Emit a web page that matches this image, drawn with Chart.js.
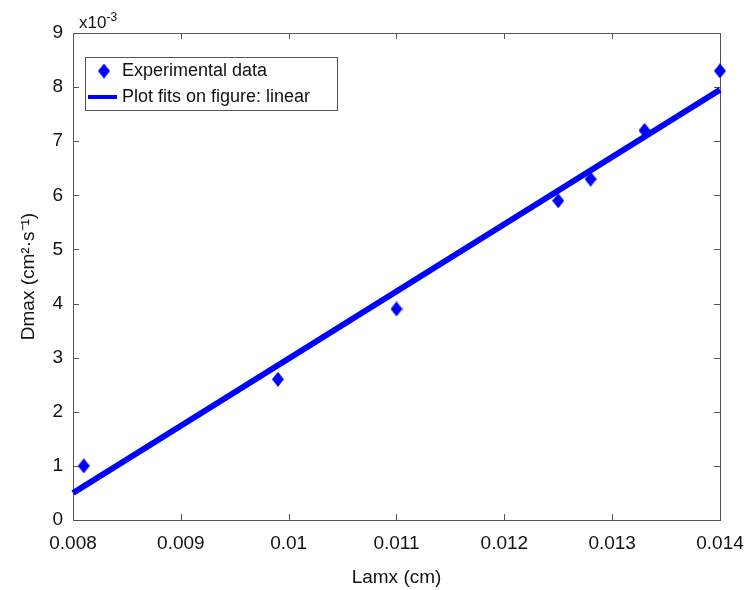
<!DOCTYPE html>
<html>
<head>
<meta charset="utf-8">
<script src="https://cdn.jsdelivr.net/npm/chart.js@4/dist/chart.umd.min.js"></script>
<style>
  body { margin: 0; background: #fff; }
  #wrap { width: 748px; height: 590px; }
</style>
</head>
<body>
<div id="wrap"><canvas id="plot" width="748" height="590"></canvas></div>
<script>
// measured points (Lamx in cm, Dmax in cm^2/s)
var lamx = [0.0081, 0.0099, 0.0110, 0.0125, 0.0128, 0.0133, 0.0140];
var dmax = [0.0010, 0.0026, 0.0039, 0.0059, 0.0063, 0.0072, 0.0083];

// linear fit end points
var fitLamx = [0.008, 0.014];
var fitDmax = [0.0005, 0.00795];

var xTickLabels = ["0.008", "0.009", "0.01", "0.011", "0.012", "0.013", "0.014"];
var yTickLabels = ["0", "1", "2", "3", "4", "5", "6", "7", "8", "9"];

var seriesNames = ["Experimental data", "Plot fits on figure: linear"];

var BLUE = "#0000ff";
var FONT = "'Liberation Sans', Arial, sans-serif";

// tall diamond like the matlab 'd' marker
function diamond(w, h) {
  var c = document.createElement("canvas");
  c.width = w; c.height = h;
  var g = c.getContext("2d");
  g.fillStyle = BLUE;
  g.beginPath();
  g.moveTo(w / 2, 0);
  g.lineTo(w, h / 2);
  g.lineTo(w / 2, h);
  g.lineTo(0, h / 2);
  g.closePath();
  g.fill();
  return c;
}
var marker = diamond(12, 15);

function pairs(xs, ys) {
  var out = [];
  for (var i = 0; i < xs.length; i++) out.push({x: xs[i], y: ys[i]});
  return out;
}

// axes box with inward ticks on all four sides
var boxPlugin = {
  id: "box",
  beforeDatasetsDraw: function(chart) {
    var ctx = chart.ctx, a = chart.chartArea;
    var sx = chart.scales.x, sy = chart.scales.y;
    ctx.save();
    ctx.strokeStyle = "#555";
    ctx.lineWidth = 1;
    ctx.strokeRect(Math.round(a.left) + 0.5, Math.round(a.top) + 0.5,
                   Math.round(a.right - a.left), Math.round(a.bottom - a.top));
    ctx.beginPath();
    sx.ticks.forEach(function(t) {
      var px = Math.round(sx.getPixelForValue(t.value)) + 0.5;
      ctx.moveTo(px, a.bottom); ctx.lineTo(px, a.bottom - 6);
      ctx.moveTo(px, a.top); ctx.lineTo(px, a.top + 6);
    });
    sy.ticks.forEach(function(t) {
      var py = Math.round(sy.getPixelForValue(t.value)) + 0.5;
      ctx.moveTo(a.left, py); ctx.lineTo(a.left + 6, py);
      ctx.moveTo(a.right, py); ctx.lineTo(a.right - 6, py);
    });
    ctx.stroke();
    ctx.restore();
  },
  afterDraw: function(chart) {
    var ctx = chart.ctx, a = chart.chartArea;
    ctx.save();
    ctx.fillStyle = "#111";
    ctx.textBaseline = "alphabetic";
    ctx.font = "17px " + FONT;
    ctx.fillText("x10", a.left + 6, 28);
    var w = ctx.measureText("x10").width;
    ctx.font = "12px " + FONT;
    ctx.fillText("-3", a.left + 6 + w, 21);
    ctx.restore();
  }
};

// boxed legend inside the axes, top left
var legendPlugin = {
  id: "boxLegend",
  afterDatasetsDraw: function(chart) {
    var ctx = chart.ctx;
    var x0 = 85, y0 = 57, w = 252, h = 53;
    ctx.save();
    ctx.fillStyle = "#fff";
    ctx.fillRect(x0, y0, w, h);
    ctx.strokeStyle = "#555";
    ctx.lineWidth = 1;
    ctx.strokeRect(x0 + 0.5, y0 + 0.5, w, h);
    ctx.drawImage(marker, 104 - 6, 71 - 7.5);
    ctx.strokeStyle = BLUE;
    ctx.lineWidth = 4;
    ctx.beginPath();
    ctx.moveTo(88, 97); ctx.lineTo(117, 97);
    ctx.stroke();
    ctx.fillStyle = "#111";
    ctx.font = "18px " + FONT;
    ctx.textBaseline = "middle";
    ctx.fillText(chart.data.datasets[0].label, 122, 71);
    ctx.fillText(chart.data.datasets[1].label, 122, 97);
    ctx.restore();
  }
};

new Chart(document.getElementById("plot"), {
  type: "scatter",
  data: {
    datasets: [{
      label: seriesNames[0],
      data: pairs(lamx, dmax),
      pointStyle: marker,
      pointRadius: 7,
      backgroundColor: BLUE,
      borderColor: BLUE,
      clip: false,
      order: 1
    }, {
      label: seriesNames[1],
      data: pairs(fitLamx, fitDmax),
      showLine: true,
      borderColor: BLUE,
      borderWidth: 6,
      pointRadius: 0,
      fill: false,
      clip: false,
      order: 2
    }]
  },
  options: {
    responsive: false,
    animation: false,
    devicePixelRatio: 1,
    layout: {padding: {left: 0, right: 28, top: 33, bottom: 0}},
    plugins: {legend: {display: false}, tooltip: {enabled: false}},
    scales: {
      x: {
        type: "linear",
        min: 0.008, max: 0.014,
        grid: {display: false, drawTicks: false},
        border: {display: false},
        ticks: {
          stepSize: 0.001,
          padding: 12,
          color: "#111",
          font: {family: FONT, size: 19},
          maxRotation: 0,
          callback: function(v, i) { return xTickLabels[i]; }
        },
        title: {
          display: true,
          text: "Lamx (cm)",
          color: "#111",
          font: {family: FONT, size: 19},
          padding: {top: 0, bottom: 1}
        },
        afterFit: function(s) {
          s.height = 70;
          s.paddingLeft = 0;
          s.paddingRight = 0;
        }
      },
      y: {
        type: "linear",
        min: 0, max: 0.009,
        grid: {display: false, drawTicks: false},
        border: {display: false},
        ticks: {
          stepSize: 0.001,
          padding: 10,
          color: "#111",
          font: {family: FONT, size: 19},
          callback: function(v, i) { return yTickLabels[i]; }
        },
        title: {
          display: true,
          text: "Dmax (cm\u00b2\u00b7s\u207b\u00b9)",
          color: "#111",
          font: {family: FONT, size: 19},
          padding: {top: 17, bottom: 0}
        },
        afterFit: function(s) {
          s.width = 73;
          s.paddingTop = 0;
          s.paddingBottom = 0;
        }
      }
    }
  },
  plugins: [boxPlugin, legendPlugin]
});
</script>
</body>
</html>
